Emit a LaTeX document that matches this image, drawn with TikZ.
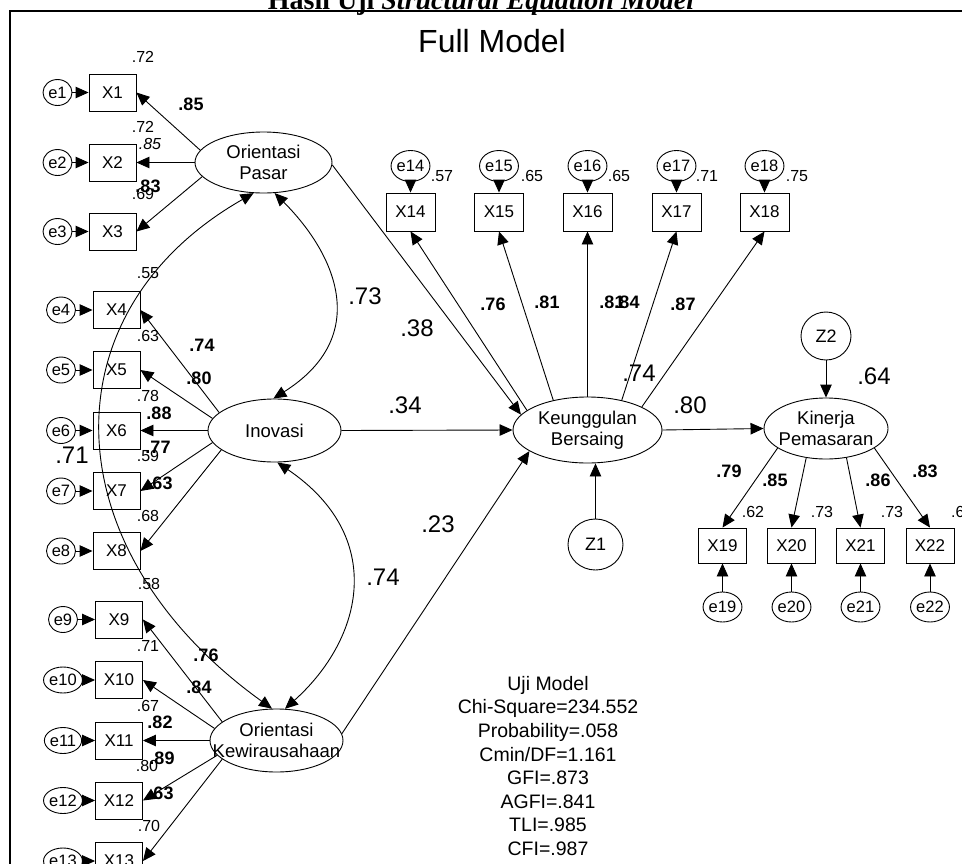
\documentclass[tikz,border=0pt]{standalone}
\usepackage{fontspec}
\setmainfont{Liberation Sans}
\newfontfamily\serifttl{Liberation Serif}
\usetikzlibrary{arrows.meta,shapes.geometric}
\begin{document}
\begin{tikzpicture}[x=1pt,y=1pt,
 >={Triangle[length=13pt,width=11.5pt]},
 ar/.style={->,line width=0.9pt},
 dar/.style={<->,line width=0.9pt},
 obs/.style={draw,rectangle,line width=0.9pt,inner sep=0pt,minimum width=47pt,minimum height=37pt,font=\fontsize{17}{19}\selectfont},
 obst/.style={obs,minimum width=49pt,minimum height=38pt},
 obsb/.style={obs,minimum width=48pt,minimum height=35pt},
 err/.style={draw,ellipse,line width=0.9pt,inner sep=0pt,minimum width=29pt,minimum height=26pt,font=\fontsize{16.5}{18}\selectfont},
 errt/.style={err,minimum width=30pt,minimum height=31pt},
 errb/.style={err,minimum width=33pt,minimum height=30pt},
 lat/.style={draw,ellipse,line width=0.9pt,inner sep=0pt},
 lattext/.style={inner sep=0pt,align=center,font=\fontsize{18.5}{21}\selectfont},
 sl/.style={inner sep=0pt,font=\fontsize{16}{18}\selectfont},
 bl/.style={inner sep=0pt,font=\bfseries\fontsize{18}{20}\selectfont},
 gl/.style={inner sep=0pt,font=\fontsize{24}{26}\selectfont}]
\useasboundingbox (0,0) rectangle (962,-863);
\clip (0,0) rectangle (962,-863);
% frame and titles
\draw[line width=1.6pt] (10,-870) -- (10,-11) -- (970,-11);
\node[anchor=base,font=\serifttl\bfseries\fontsize{28}{30}\selectfont] (title) at (481,-9) {Hasil Uji \textit{Structural Equation Model}};
\node[inner sep=0pt,font=\fontsize{32}{34}\selectfont] (full) at (492,-41) {Full Model};
% latent variables
\node[lat,minimum width=137pt,minimum height=61pt] (OP) at (263.5,-162.5) {};
\node[lattext] (OPt) at (OP.center) {Orientasi\\Pasar};
\node[lat,minimum width=133pt,minimum height=63pt] (IN) at (274.5,-430.5) {};
\node[lattext] (INt) at (IN.center) {Inovasi};
\node[lat,minimum width=133pt,minimum height=63pt] (OK) at (276.5,-740.5) {};
\node[lattext] (OKt) at (OK.center) {Orientasi\\Kewirausahaan};
\node[lat,minimum width=149pt,minimum height=66pt] (KB) at (587.5,-430) {};
\node[lattext] (KBt) at (KB.center) {Keunggulan\\Bersaing};
\node[lat,minimum width=124pt,minimum height=61pt] (KP) at (826,-428.5) {};
\node[lattext] (KPt) at (KP.center) {Kinerja\\Pemasaran};
\node[err,minimum width=55pt,minimum height=51pt,font=\fontsize{18}{20}\selectfont] (Z1) at (595.5,-544.5) {Z1};
\node[err,minimum width=50pt,minimum height=48pt,font=\fontsize{18}{20}\selectfont] (Z2) at (826,-336) {Z2};
% left indicators
\node[obs] (X1) at (112.5,-92.5) {X1};
\node[obs] (X2) at (112.5,-162.5) {X2};
\node[obs] (X3) at (112.5,-231.5) {X3};
\node[err] (e1) at (57.5,-92.5) {e1};
\node[err] (e2) at (57.5,-162.5) {e2};
\node[err] (e3) at (57.5,-231.5) {e3};
\node[obs] (X4) at (116.5,-310) {X4};
\node[obs] (X5) at (116.5,-370) {X5};
\node[obs] (X6) at (116.5,-430.5) {X6};
\node[obs] (X7) at (116.5,-491) {X7};
\node[obs] (X8) at (116.5,-551) {X8};
\node[err] (e4) at (61,-310) {e4};
\node[err] (e5) at (61,-370) {e5};
\node[err] (e6) at (61,-430.5) {e6};
\node[err] (e7) at (61,-491) {e7};
\node[err] (e8) at (61,-551) {e8};
\node[obs] (X9) at (119,-619.5) {X9};
\node[obs] (X10) at (119,-680) {X10};
\node[obs] (X11) at (119,-740.5) {X11};
\node[obs] (X12) at (119,-800.5) {X12};
\node[obs] (X13) at (119,-861) {X13};
\node[err] (e9) at (63,-619.5) {e9};
\node[err] (e10) at (63,-680) {e10};
\node[err] (e11) at (63,-740.5) {e11};
\node[err] (e12) at (63,-800.5) {e12};
\node[err] (e13) at (63,-861) {e13};
% top indicators
\node[obst] (X14) at (410.5,-212) {X14};
\node[obst] (X15) at (499,-212) {X15};
\node[obst] (X16) at (587.5,-212) {X16};
\node[obst] (X17) at (676.5,-212) {X17};
\node[obst] (X18) at (764.5,-212) {X18};
\node[errt] (e14) at (410.5,-166) {e14};
\node[errt] (e15) at (499,-166) {e15};
\node[errt] (e16) at (587.5,-166) {e16};
\node[errt] (e17) at (676.5,-166) {e17};
\node[errt] (e18) at (764.5,-166) {e18};
% bottom right indicators
\node[obsb] (X19) at (722.5,-545.5) {X19};
\node[obsb] (X20) at (791.5,-545.5) {X20};
\node[obsb] (X21) at (860.5,-545.5) {X21};
\node[obsb] (X22) at (930,-545.5) {X22};
\node[errb] (e19) at (722.5,-607) {e19};
\node[errb] (e20) at (791.5,-607) {e20};
\node[errb] (e21) at (860.5,-607) {e21};
\node[errb] (e22) at (930,-607) {e22};
% error arrows
\foreach \i in {1,...,13} {\draw[ar] (e\i) -- (X\i);}
\foreach \i in {14,...,22} {\draw[ar] (e\i) -- (X\i);}
% loadings
\draw[ar] (OP.169) -- (X1.east);
\draw[ar] (OP.180) -- (X2.east);
\draw[ar] (OP.193) -- (X3.east);
\draw[ar] (IN.162) -- (X4.east);
\draw[ar] (IN.169) -- (X5.east);
\draw[ar] (IN.180) -- (X6.east);
\draw[ar] (IN.191) -- (X7.east);
\draw[ar] (IN.200) -- (X8.east);
\draw[ar] (OK.161) -- (X9.east);
\draw[ar] (OK.169) -- (X10.east);
\draw[ar] (OK.180) -- (X11.east);
\draw[ar] (OK.194) -- (X12.east);
\draw[ar] (OK.199) -- (X13.east);
\draw[ar] (KB.162) -- (X14.south);
\draw[ar] (KB.139) -- (X15.south);
\draw[ar] (KB.90) -- (X16.south);
\draw[ar] (KB.41) -- (X17.south);
\draw[ar] (KB.23) -- (X18.south);
\draw[ar] (KP.202) -- (X19.north);
\draw[ar] (KP.236) -- (X20.north);
\draw[ar] (KP.305) -- (X21.north);
\draw[ar] (KP.338) -- (X22.north);
% structural paths
\draw[ar] (OP.-2) -- (KB.167);
\draw[ar] (IN.0) -- (KB.180);
\draw[ar] (OK.6) -- (KB.200);
\draw[ar] (Z1.north) -- (Z1.north |- KB.south);
\draw[ar] (KB.0) -- (KP.180);
\draw[ar] (Z2) -- (KP);
% covariances
\draw[dar] (OP.-70) .. controls +(62,-62) and +(98,62) .. (IN.92);
\draw[dar] (IN.-85) .. controls +(109,-74) and +(79,71) .. (OK.75);
\draw[dar] (OP.-108) .. controls +(-210,-120) and +(-220,158) .. (OK.98);
% small labels
\node[sl] (s1) at (143,-57) {.72};
\node[sl] (s2) at (143,-127) {.72};
\node[sl,font=\itshape\fontsize{16}{18}\selectfont] (s3) at (150,-144) {.85};
\node[sl] (s4) at (143,-194) {.69};
\node[sl] (s5) at (148,-273) {.55};
\node[sl] (s6) at (148,-336) {.63};
\node[sl] (s7) at (148,-396) {.78};
\node[sl] (s8) at (148,-456) {.59};
\node[sl] (s9) at (148,-516) {.68};
\node[sl] (s10) at (149,-584) {.58};
\node[sl] (s11) at (148,-646) {.71};
\node[sl] (s12) at (148,-706) {.67};
\node[sl] (s13) at (147,-766) {.80};
\node[sl] (s14) at (149,-826) {.70};
\node[sl] (s15) at (442,-176) {.57};
\node[sl] (s16) at (532,-176) {.65};
\node[sl] (s17) at (619,-176) {.65};
\node[sl] (s18) at (707,-176) {.71};
\node[sl] (s19) at (797,-176) {.75};
\node[sl] (s20) at (753,-512) {.62};
\node[sl] (s21) at (822,-512) {.73};
\node[sl] (s22) at (892,-512) {.73};
\node[sl,anchor=west] (s23) at (951,-512) {.6};
% bold labels
\node[bl] (b1) at (191,-104) {.85};
\node[bl] (b2) at (148,-186) {.83};
\node[bl] (b3) at (202,-345) {.74};
\node[bl] (b4) at (199,-378) {.80};
\node[bl] (b5) at (159,-413) {.88};
\node[bl] (b6) at (158,-447) {.77};
\node[bl] (b7) at (160,-483) {.63};
\node[bl] (b8) at (206,-655) {.76};
\node[bl] (b9) at (199,-687) {.84};
\node[bl] (b10) at (160,-722) {.82};
\node[bl] (b11) at (162,-758) {.89};
\node[bl] (b12) at (161,-793) {.63};
\node[bl] (b13) at (493,-304) {.76};
\node[bl] (b14) at (547,-302) {.81};
\node[bl] (b15) at (612,-302) {.81};
\node[bl] (b16) at (627,-302) {.84};
\node[bl] (b17) at (683,-304) {.87};
\node[bl] (b18) at (729,-471) {.79};
\node[bl] (b19) at (775,-480) {.85};
\node[bl] (b20) at (878,-480) {.86};
\node[bl] (b21) at (925,-471) {.83};
% large labels
\node[gl] (g1) at (72,-455) {.71};
\node[gl] (g2) at (365,-296) {.73};
\node[gl] (g3) at (417,-328) {.38};
\node[gl] (g4) at (405,-405) {.34};
\node[gl] (g5) at (438,-524) {.23};
\node[gl] (g6) at (383,-577) {.74};
\node[gl] (g7) at (639,-373) {.74};
\node[gl] (g8) at (690,-405) {.80};
\node[gl] (g9) at (874,-376) {.64};
% fit statistics
\node[inner sep=0pt,align=center,font=\fontsize{19.5}{23.6}\selectfont] (fit) at (548,-766) {Uji Model\\Chi-Square=234.552\\Probability=.058\\Cmin/DF=1.161\\GFI=.873\\AGFI=.841\\TLI=.985\\CFI=.987};
\end{tikzpicture}
\end{document}
